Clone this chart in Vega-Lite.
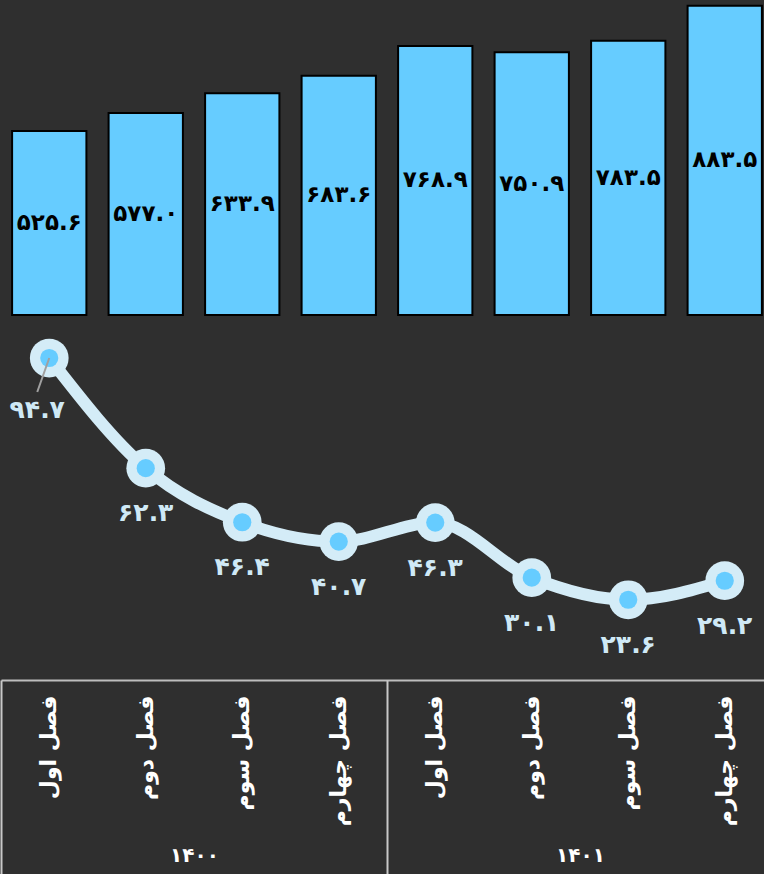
{
  "$schema": "https://vega.github.io/schema/vega-lite/v6.json",
  "width": 772,
  "height": 680,
  "padding": 0,
  "background": "#2f2f2f",
  "config": {"view": {"stroke": null}, "font": "DejaVu Sans"},
  "data": {"values": [
    {"id": "q1", "year": "۱۴۰۰", "bar": 525.6, "barText": "۵۲۵.۶", "rate": 94.7, "rateText": "۹۴.۷"},
    {"id": "q2", "year": "۱۴۰۰", "bar": 577.0, "barText": "۵۷۷.۰", "rate": 62.3, "rateText": "۶۲.۳"},
    {"id": "q3", "year": "۱۴۰۰", "bar": 633.9, "barText": "۶۳۳.۹", "rate": 46.4, "rateText": "۴۶.۴"},
    {"id": "q4", "year": "۱۴۰۰", "bar": 683.6, "barText": "۶۸۳.۶", "rate": 40.7, "rateText": "۴۰.۷"},
    {"id": "q5", "year": "۱۴۰۱", "bar": 768.9, "barText": "۷۶۸.۹", "rate": 46.3, "rateText": "۴۶.۳"},
    {"id": "q6", "year": "۱۴۰۱", "bar": 750.9, "barText": "۷۵۰.۹", "rate": 30.1, "rateText": "۳۰.۱"},
    {"id": "q7", "year": "۱۴۰۱", "bar": 783.5, "barText": "۷۸۳.۵", "rate": 23.6, "rateText": "۲۳.۶"},
    {"id": "q8", "year": "۱۴۰۱", "bar": 883.5, "barText": "۸۸۳.۵", "rate": 29.2, "rateText": "۲۹.۲"}
  ]},
  "resolve": {"scale": {"y": "independent", "x": "independent"}, "axis": {"x": "independent"}},
  "layer": [
    {
      "mark": {"type": "bar", "fill": "#66ccff", "stroke": "#000000", "strokeWidth": 2, "width": {"band": 0.77}},
      "encoding": {
        "x": {"field": "id", "type": "nominal", "sort": "ascending",
              "scale": {"paddingInner": 0, "paddingOuter": 0},
              "axis": {"orient": "bottom", "title": null, "ticks": false, "domain": true, "domainColor": "#bdbdbd", "domainWidth": 2,
                       "labelAngle": -90, "labelAlign": "right", "labelBaseline": "middle", "labelPadding": 15,
                       "labelFontSize": 22, "labelFontWeight": "bold", "labelColor": "#ffffff",
                       "labelExpr": "['فصل اول','فصل دوم','فصل سوم','فصل چهارم'][(toNumber(substring(datum.value,1))-1)%4]"}},
        "y": {"field": "bar", "type": "quantitative", "scale": {"domain": [0, 900], "range": [315, 0]}, "axis": null}
      }
    },
    {
      "mark": {"type": "text", "color": "#000000", "fontSize": 23, "fontWeight": "bold", "baseline": "middle"},
      "encoding": {
        "x": {"field": "id", "type": "nominal", "sort": "ascending", "scale": {"paddingInner": 0, "paddingOuter": 0}, "axis": null},
        "y": {"field": "bar", "type": "quantitative", "scale": {"domain": [0, 1800], "range": [315, 0]}, "axis": null},
        "text": {"field": "barText"}
      }
    },
    {
      "layer": [
        {
          "mark": {"type": "line", "stroke": "#d4ecf7", "strokeWidth": 12, "interpolate": "monotone"},
          "encoding": {}
        },
        {
          "mark": {"type": "circle", "color": "#d4ecf7", "opacity": 1, "size": 1500},
          "encoding": {}
        },
        {
          "mark": {"type": "circle", "color": "#66ccff", "opacity": 1, "size": 330},
          "encoding": {}
        },
        {
          "transform": [{"filter": "datum.id == 'q1'"}],
          "mark": {"type": "rule", "stroke": "#a0a0a0", "strokeWidth": 2, "x2Offset": -12, "y2Offset": 34},
          "encoding": {
            "x2": {"field": "id"},
            "y2": {"field": "rate"}
          }
        },
        {
          "transform": [{"filter": "datum.id != 'q1'"}],
          "mark": {"type": "text", "color": "#cfe9f6", "fontSize": 25, "fontWeight": "bold", "baseline": "middle", "dy": 45},
          "encoding": {"text": {"field": "rateText"}}
        },
        {
          "transform": [{"filter": "datum.id == 'q1'"}],
          "mark": {"type": "text", "color": "#cfe9f6", "fontSize": 25, "fontWeight": "bold", "baseline": "middle", "dy": 52, "dx": -12},
          "encoding": {"text": {"field": "rateText"}}
        }
      ],
      "encoding": {
        "x": {"field": "id", "type": "nominal", "sort": "ascending", "scale": {"paddingInner": 0, "paddingOuter": 0}, "axis": null},
        "y": {"field": "rate", "type": "quantitative", "scale": {"domain": [0, 200]}, "axis": null}
      }
    },
    {
      "mark": {"type": "rule", "opacity": 0},
      "encoding": {
        "x": {"field": "year", "type": "nominal", "sort": "ascending",
              "scale": {"paddingInner": 0, "paddingOuter": 0},
              "axis": {"orient": "bottom", "title": null, "domain": false, "tickBand": "extent", "tickSize": 194, "tickWidth": 2, "tickColor": "#c8c8c8",
                       "labelAngle": 0, "labelPadding": -29, "labelFontSize": 20, "labelFontWeight": "bold", "labelColor": "#ffffff", "labelBaseline": "top"}}
      }
    }
  ]
}
